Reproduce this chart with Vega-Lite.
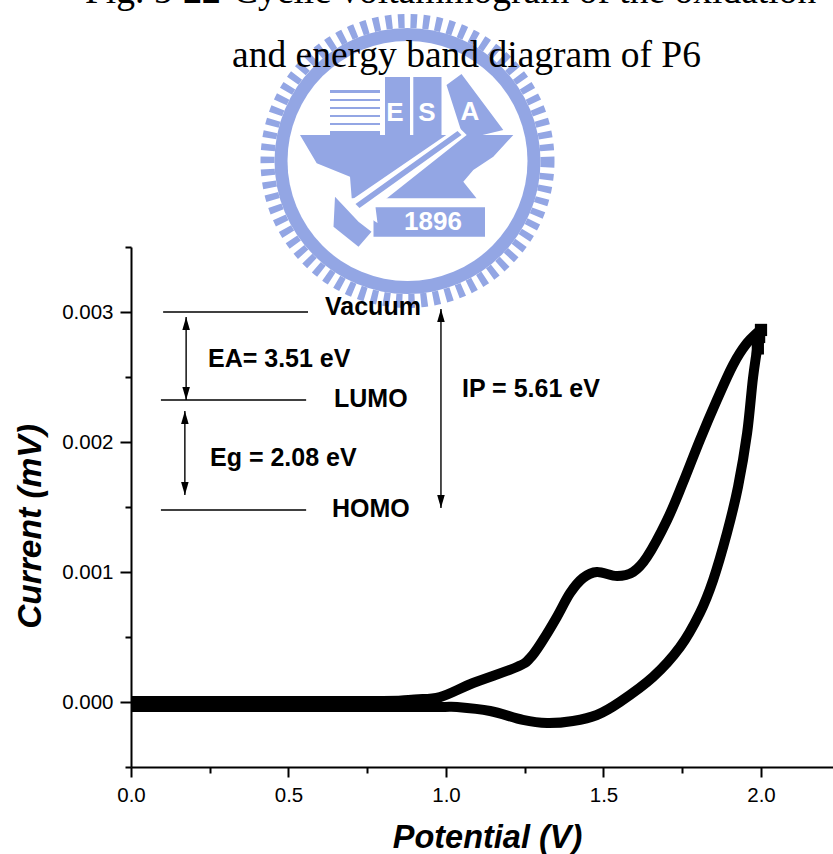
{"$schema":"https://vega.github.io/schema/vega-lite/v6.json","width":702,"height":520,"autosize":"none","padding":{"left":131,"top":247,"right":0,"bottom":87},"background":"white","config":{"view":{"stroke":null}},
"encoding":{"x":{"field":"x","type":"quantitative","scale":{"domain":[0,2.2286],"nice":false,"zero":false},"axis":{"grid":false,"values":[0,0.25,0.5,0.75,1,1.25,1.5,1.75,2],"labelExpr":"round(datum.value*4)%2==0 ? format(datum.value,'.1f') : ''","labelFont":"Liberation Sans","labelFontSize":20.5,"labelColor":"#000","labelPadding":8,"labelFlush":false,"labelOverlap":false,"tickColor":"#000","tickWidth":2,"domainColor":"#000","domainWidth":2,"tickSize":{"condition":{"test":"round(datum.value*4)%2==0","value":10},"value":6},"title":"Potential (V)","titleFont":"Liberation Sans","titleFontSize":32.5,"titleFontWeight":"bold","titleFontStyle":"italic","titleColor":"#000","titleX":356,"titleY":80,"titleAlign":"center","titleBaseline":"alphabetic"}},
"y":{"field":"y","type":"quantitative","scale":{"domain":[-0.0005,0.0035],"nice":false,"zero":false},"axis":{"grid":false,"values":[-0.0005,0,0.0005,0.001,0.0015,0.002,0.0025,0.003,0.0035],"labelExpr":"round(datum.value*2000)%2==0 ? format(datum.value,'.3f') : ''","labelFont":"Liberation Sans","labelFontSize":20.5,"labelColor":"#000","labelPadding":7,"labelFlush":false,"labelOverlap":false,"tickColor":"#000","tickWidth":2,"domainColor":"#000","domainWidth":2,"tickSize":{"condition":{"test":"round(datum.value*2000)%2==0","value":11},"value":6},"title":"Current (mV)","titleFont":"Liberation Sans","titleFontSize":33.5,"titleFontWeight":"bold","titleFontStyle":"italic","titleColor":"#000","titleX":-91,"titleY":279,"titleAlign":"center","titleBaseline":"alphabetic"}}},
"layer":[
{"data":{"values":[{"x":0.8778,"y":0.004162}]},"mark":{"type":"point","filled":false,"size":78400,"stroke":"#93a6e4","strokeWidth":14,"strokeDash":[6.5,6],"opacity":1}},
{"data":{"values":[{"x":0.8778,"y":0.004162}]},"mark":{"type":"point","filled":true,"size":70756,"fill":"#93a6e4","opacity":1}},
{"data":{"values":[{"x":0.8778,"y":0.004162}]},"mark":{"type":"point","filled":true,"size":57600,"fill":"#ffffff","opacity":1}},
{"data":{"values":[{"x":0.8778,"y":0.004162}]},"mark":{"type":"point","filled":true,"size":4,"fill":"#93a6e4","opacity":1,"shape":"M-107.5,-26L105.8,-26L85.8,-4.3L65.8,9L55.8,20.7L69,37.3L-55.8,37.3L-57.5,15.7L-90.8,2.3ZM-22.5,-84L2.5,-84L2.5,-26L-22.5,-26ZM5.8,-84L34,-84L34,-26L5.8,-26ZM39,-76L54,-87L95.8,-31L75,-26L55,-26ZM-77.5,-71L-27.5,-71L-27.5,-68L-77.5,-68ZM-77.5,-62L-27.5,-62L-27.5,-60L-77.5,-60ZM-77.5,-54L-27.5,-54L-27.5,-52L-77.5,-52ZM-77.5,-46L-27.5,-46L-27.5,-44L-77.5,-44ZM-77.5,-38L-27.5,-38L-27.5,-36L-77.5,-36ZM-77.5,-30L-27.5,-30L-27.5,-26L-77.5,-26ZM-34,46.3L77.5,46.3L77.5,75.7L-34,75.7Z"}},
{"data":{"values":[{"x":0.8778,"y":0.004162}]},"mark":{"type":"point","filled":true,"size":4,"fill":"#ffffff","opacity":1,"shape":"M50.8,-34.3L59.2,-26L-32,46.3L-30,62L-60.8,42.3Z"}},
{"data":{"values":[{"x":0.8778,"y":0.004162}]},"mark":{"type":"point","filled":true,"size":4,"fill":"#93a6e4","opacity":1,"shape":"M50,-30L54,-26L-48,47L-52,43ZM-72.5,35.7L-49,60.7L-36,70.7L-49,85.7L-74,65.7Z"}},
{"data":{"values":[{"x":0.8381,"y":0.004531,"label":"E"},{"x":0.9397,"y":0.004531,"label":"S"},{"x":1.0762,"y":0.004538,"label":"A"},{"x":0.9587,"y":0.003692,"label":"1896"}]},"mark":{"type":"text","font":"Liberation Sans","fontSize":26,"fontWeight":"bold","color":"#ffffff","align":"center","baseline":"middle"},"encoding":{"text":{"field":"label"}}},
{"data":{"values":[{"x":1.065,"y":0.004885,"label":"and energy band diagram of P6"},{"x":-0.146,"y":0.005377,"label":"Fig. 5-"},{"x":0.3238,"y":0.005377,"label":"Cyclic voltammogram of the oxidation"}]},"mark":{"type":"text","font":"Liberation Serif","fontSize":37.5,"color":"#000","align":"left","baseline":"alphabetic"},"transform":[{"filter":"datum.label != 'and energy band diagram of P6'"}],"encoding":{"text":{"field":"label"}}},
{"data":{"values":[{"x":1.065,"y":0.004885,"label":"and energy band diagram of P6"}]},"mark":{"type":"text","font":"Liberation Serif","fontSize":37.5,"color":"#000","align":"center","baseline":"alphabetic"},"encoding":{"text":{"field":"label"}}},
{"data":{"values":[{"x":0.165,"y":0.005377,"label":"22"}]},"mark":{"type":"text","font":"Liberation Serif","fontSize":37.5,"fontWeight":"bold","color":"#000","align":"left","baseline":"alphabetic"},"encoding":{"text":{"field":"label"}}},
{"data":{"values":[
{"i":1,"x":0,"y":0.000008},{"i":2,"x":0.4,"y":0.000008},{"i":3,"x":0.8,"y":0.000008},{"i":4,"x":0.9,"y":0.00002},{"i":5,"x":0.981,"y":0.000038},{"i":6,"x":1.086,"y":0.000146},{"i":7,"x":1.225,"y":0.000269},{"i":8,"x":1.267,"y":0.000338},{"i":9,"x":1.308,"y":0.000477},{"i":10,"x":1.352,"y":0.000654},{"i":11,"x":1.394,"y":0.000838},{"i":12,"x":1.435,"y":0.000954},{"i":13,"x":1.479,"y":0.001},{"i":14,"x":1.543,"y":0.000969},{"i":15,"x":1.594,"y":0.001},{"i":16,"x":1.638,"y":0.001115},{"i":17,"x":1.702,"y":0.0014},{"i":18,"x":1.752,"y":0.001685},{"i":19,"x":1.806,"y":0.002015},{"i":20,"x":1.86,"y":0.002323},{"i":21,"x":1.911,"y":0.002592},{"i":22,"x":1.956,"y":0.002762},{"i":23,"x":2.0,"y":0.002862},{"i":24,"x":1.994,"y":0.002808},{"i":25,"x":1.975,"y":0.0025},{"i":26,"x":1.956,"y":0.002069},{"i":27,"x":1.927,"y":0.001654},{"i":28,"x":1.892,"y":0.0013},{"i":29,"x":1.848,"y":0.000938},{"i":30,"x":1.806,"y":0.000685},{"i":31,"x":1.743,"y":0.000423},{"i":32,"x":1.657,"y":0.000192},{"i":33,"x":1.552,"y":0},{"i":34,"x":1.479,"y":-0.0001},{"i":35,"x":1.403,"y":-0.000146},{"i":36,"x":1.321,"y":-0.000162},{"i":37,"x":1.244,"y":-0.000138},{"i":38,"x":1.14,"y":-0.000069},{"i":39,"x":1.035,"y":-0.000038},{"i":40,"x":0.981,"y":-0.000038},{"i":41,"x":0.8,"y":-0.000038},{"i":42,"x":0.4,"y":-0.000038},{"i":43,"x":0,"y":-0.000038}]},"mark":{"type":"line","color":"#000","strokeWidth":10,"strokeCap":"butt","strokeJoin":"miter","interpolate":"cardinal","clip":false},"encoding":{"order":{"field":"i","type":"quantitative"}}},
{"data":{"values":[{"x":2.0,"y":0.002862},{"x":1.994,"y":0.002808},{"x":1.99,"y":0.00272}]},"mark":{"type":"point","filled":true,"shape":"square","size":150,"fill":"#000","opacity":1}},
{"data":{"values":[{"x":0.102,"x2":0.562,"y":0.003,"y2":0.003},{"x":0.095,"x2":0.556,"y":0.002323,"y2":0.002323},{"x":0.095,"x2":0.556,"y":0.001477,"y2":0.001477},{"x":0.175,"x2":0.175,"y":0.002962,"y2":0.002323},{"x":0.171,"x2":0.171,"y":0.002238,"y2":0.001592},{"x":0.984,"x2":0.984,"y":0.003023,"y2":0.001492}]},"mark":{"type":"rule","color":"#000","strokeWidth":1.4},"encoding":{"x2":{"field":"x2"},"y2":{"field":"y2"}}},
{"data":{"values":[{"x":0.175,"y":0.002962},{"x":0.171,"y":0.002238},{"x":0.984,"y":0.003023}]},"mark":{"type":"point","filled":true,"size":676,"fill":"#000","opacity":1,"shape":"M0,0L0.29,1L-0.29,1Z"}},
{"data":{"values":[{"x":0.175,"y":0.002323},{"x":0.171,"y":0.001592},{"x":0.984,"y":0.001492}]},"mark":{"type":"point","filled":true,"size":676,"fill":"#000","opacity":1,"shape":"M0,0L0.29,-1L-0.29,-1Z"}},
{"data":{"values":[{"x":0.6159,"y":0.002977,"label":"Vacuum"},{"x":0.6444,"y":0.002269,"label":"LUMO"},{"x":0.6381,"y":0.001423,"label":"HOMO"},{"x":0.2444,"y":0.002577,"label":"EA= 3.51 eV"},{"x":0.2508,"y":0.001815,"label":"Eg = 2.08 eV"},{"x":1.0508,"y":0.002346,"label":"IP = 5.61 eV"}]},"mark":{"type":"text","font":"Liberation Sans","fontSize":25,"fontWeight":"bold","color":"#000","align":"left","baseline":"alphabetic"},"encoding":{"text":{"field":"label"}}}
]}
